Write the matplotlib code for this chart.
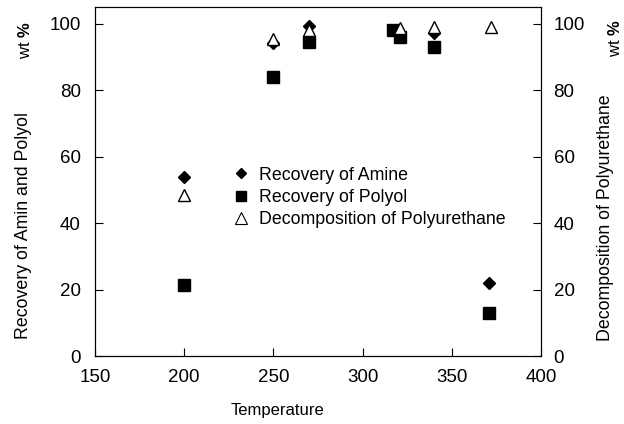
import matplotlib

matplotlib.use("Agg")
import matplotlib.pyplot as plt
from matplotlib.lines import Line2D

plt.rcParams["font.family"] = ["Liberation Sans", "DejaVu Sans"]
plt.rcParams["mathtext.fontset"] = "custom"
plt.rcParams["mathtext.rm"] = "Liberation Sans"
plt.rcParams["mathtext.bf"] = "Liberation Sans:bold"

# temperatures and wt% values
amine_t = [200, 250, 270, 320, 340, 371]
amine_v = [54, 94.3, 99.3, 98, 97.3, 22]

polyol_t = [200, 250, 270, 317, 321, 340, 371]
polyol_v = [21.5, 84, 94.5, 98, 96, 93, 13]

decomp_t = [200, 250, 270, 321, 340, 372]
decomp_v = [48.5, 95.5, 98.2, 98.8, 99, 99]

fig = plt.figure(figsize=(6.24, 4.24), dpi=100)
ax = fig.add_axes([0.152, 0.160, 0.715, 0.823])

ax.plot(amine_t, amine_v, "D", color="black", ms=6, ls="none", zorder=3)
ax.plot(polyol_t, polyol_v, "s", color="black", ms=8.5, ls="none", zorder=3)
ax.plot(decomp_t, decomp_v, "^", mfc="white", mec="black", mew=1, ms=9,
        ls="none", zorder=4)

ax.set_xlim(150, 400)
ax.set_ylim(0, 105)
ax.set_xticks([150, 200, 250, 300, 350, 400])
ax.set_yticks([0, 20, 40, 60, 80, 100])
ax.tick_params(direction="in", length=6, labelsize=13.5, width=0.8)
ax.tick_params(axis="x", pad=9)
ax.tick_params(axis="y", pad=10)

ax2 = ax.twinx()
ax2.set_ylim(0, 105)
ax2.set_yticks([0, 20, 40, 60, 80, 100])
ax2.tick_params(direction="in", length=6, labelsize=13.5, width=0.8, pad=9)

fig.text(0.038, 0.469, "Recovery of Amin and Polyol", rotation=90,
         ha="center", va="center", fontsize=12.8)
fig.text(0.040, 0.906, r"wt $\mathbf{\%}$", rotation=90, ha="center",
         va="center", fontsize=12)
fig.text(0.970, 0.486, "Decomposition of Polyurethane", rotation=90,
         ha="center", va="center", fontsize=12.8)
fig.text(0.986, 0.91, r"wt $\mathbf{\%}$", rotation=90, ha="center",
         va="center", fontsize=12)
fig.text(0.445, 0.033, "Temperature", ha="center", va="center", fontsize=12)

handles = [
    Line2D([], [], marker="D", color="black", ms=5.5, ls="none"),
    Line2D([], [], marker="s", color="black", ms=7.5, ls="none"),
    Line2D([], [], marker="^", mfc="white", mec="black", mew=0.8, ms=8,
           ls="none"),
]
labels = ["Recovery of Amine", "Recovery of Polyol",
          "Decomposition of Polyurethane"]
ax2.legend(handles, labels, loc="center left", bbox_to_anchor=(0.30, 0.455),
           frameon=False, fontsize=12.8, handlelength=0.6, handletextpad=0.7,
           labelspacing=0.3, borderaxespad=0)

fig.savefig("out.png", dpi=100)
